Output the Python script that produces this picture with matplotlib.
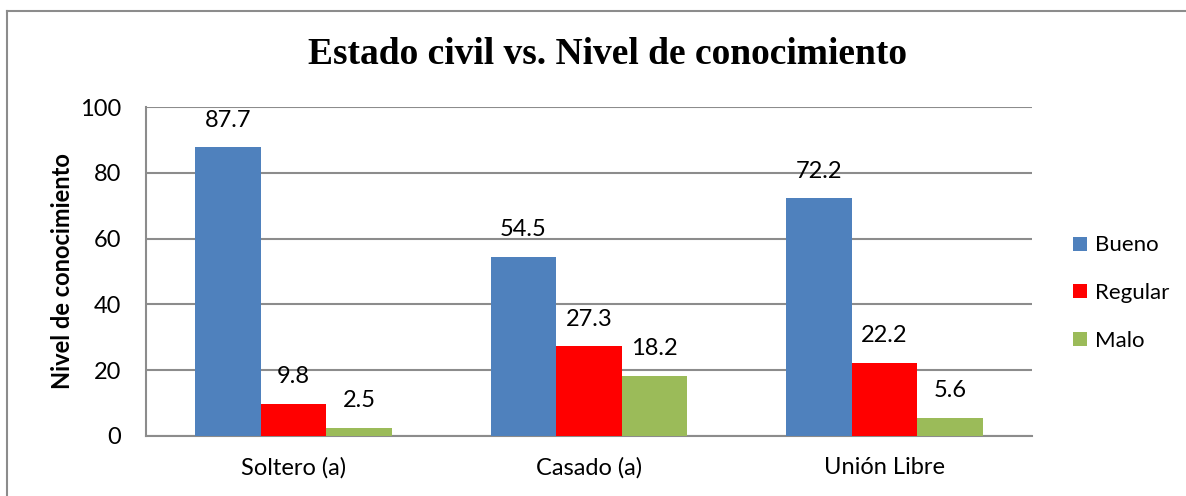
import matplotlib.pyplot as plt
import numpy as np
from matplotlib.lines import Line2D

categories = ["Soltero (a)", "Casado (a)", "Unión Libre"]
series = ["Bueno", "Regular", "Malo"]
bueno = [87.7, 54.5, 72.2]
regular = [9.8, 27.3, 22.2]
malo = [2.5, 18.2, 5.6]
colors = ["#4F81BD", "#FF0000", "#9BBB59"]

plt.rcParams["font.family"] = ["Lato", "DejaVu Sans"]
fs = 17

W, H = 1186, 496
fig = plt.figure(figsize=(W / 100, H / 100), dpi=100)
ax = fig.add_axes([146 / W, 1 - 436 / H, (1032 - 146) / W, (436 - 107) / H])

grid_c = "#8C8C8C"

x = np.arange(len(categories))
bw = 0.2222
for i, (name, vals) in enumerate(zip(series, [bueno, regular, malo])):
    pos = x + (i - 1) * bw
    ax.bar(pos, vals, width=bw, color=colors[i], label=name, zorder=3)
    for p, v in zip(pos, vals):
        ax.annotate(f"{v:.1f}", (p, v), xytext=(0, 12), textcoords="offset points",
                    ha="center", va="bottom", fontsize=fs)

ax.set_xlim(-0.5, 2.5)
ax.set_ylim(0, 100)
ax.set_yticks(np.arange(0, 101, 20))
ax.set_xticks(x)
ax.set_xticklabels(categories)
ax.tick_params(axis="both", length=0, labelsize=fs)
ax.tick_params(axis="y", pad=18)
ax.tick_params(axis="x", pad=15)
ax.yaxis.grid(True, color=grid_c, linewidth=1.5, zorder=0)
for s in ["top", "right"]:
    ax.spines[s].set_visible(False)
for s in ["left", "bottom"]:
    ax.spines[s].set_color(grid_c)
    ax.spines[s].set_linewidth(1.5)

ax.set_ylabel("Nivel de conocimiento", fontsize=fs, fontweight="bold", labelpad=4)

fig.text(607 / W, 1 - 55 / H, "Estado civil vs. Nivel de conocimiento", ha="center", va="center",
         fontsize=27, fontweight="bold", family="Liberation Serif")

ax.legend(loc="center left", bbox_to_anchor=(1.024, 0.434), frameon=False,
          handlelength=0.6, handleheight=0.6, handletextpad=0.4, labelspacing=1.25,
          prop={"size": 16})

# outer chart border
fig.add_artist(Line2D([6.5 / W, 6.5 / W], [1 - 11 / H, 0], color="#8C8C8C", linewidth=1.5))
fig.add_artist(Line2D([6.5 / W, 1], [1 - 11 / H, 1 - 11 / H], color="#8C8C8C", linewidth=1.5))

fig.savefig("out.png", dpi=100)
